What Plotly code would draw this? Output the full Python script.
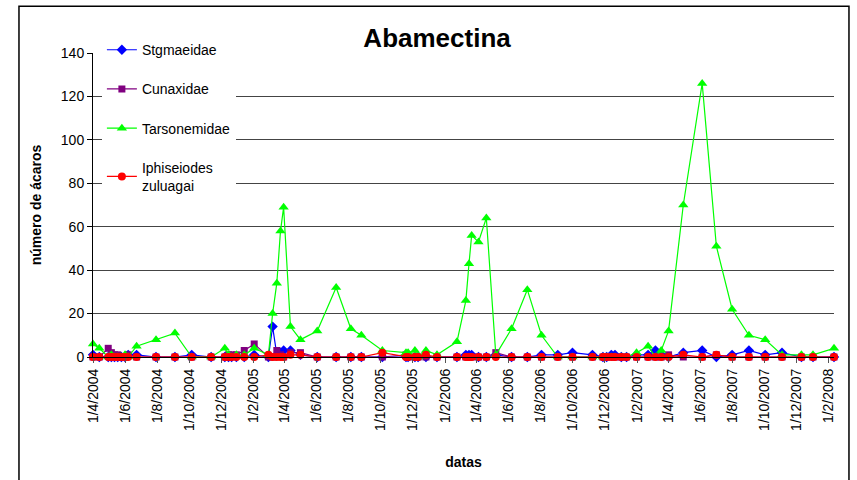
import plotly.graph_objects as go

dates = [
    "2004-04-01", "2004-04-13", "2004-04-30", "2004-05-06", "2004-05-12", "2004-05-18",
    "2004-05-25", "2004-06-01", "2004-06-07", "2004-06-23", "2004-07-30", "2004-09-04",
    "2004-10-06", "2004-11-12", "2004-12-08", "2004-12-15", "2004-12-21", "2004-12-30",
    "2005-01-14", "2005-02-02", "2005-03-01", "2005-03-09", "2005-03-17", "2005-03-24",
    "2005-03-30", "2005-04-12", "2005-05-01", "2005-06-02", "2005-07-08", "2005-08-05",
    "2005-08-25", "2005-10-04", "2005-11-18", "2005-11-22", "2005-12-05", "2005-12-11",
    "2005-12-26", "2006-01-16", "2006-02-23", "2006-03-12", "2006-03-18", "2006-03-23",
    "2006-04-05", "2006-04-20", "2006-05-08", "2006-06-07", "2006-07-07", "2006-08-03",
    "2006-09-03", "2006-10-01", "2006-11-08", "2006-11-28", "2006-12-05", "2006-12-14",
    "2006-12-21", "2007-01-02", "2007-01-12", "2007-01-31", "2007-02-22", "2007-03-08",
    "2007-03-19", "2007-04-02", "2007-04-30", "2007-06-05", "2007-07-02", "2007-08-01",
    "2007-09-02", "2007-10-03", "2007-11-04", "2007-12-11", "2008-01-02", "2008-02-11",
]

stgmaeidae = [
    1, 0, 0, 0, 0, 0, 0, 0, 1, 1, 0, 0,
    1, 0, 0, 0, 0, 0, 0, 1, 0, 14, 1, 2,
    3, 3, 1, 0, 0, 0, 0, 0, 0, 0, 0, 0,
    0, 0, 0, 1, 1, 1, 0, 0, 1, 0, 0, 1,
    1, 2, 1, 0, 0, 1, 1, 0, 0, 1, 1, 3,
    1, 0, 2, 3, 0, 1, 3, 1, 2, 0, 0, 0,
]

cunaxidae = [
    0, 0, 4, 2, 1, 1, 0, 0, 1, 0, 0, 0,
    0, 0, 0, 1, 1, 1, 3, 6, 0, 0, 3, 1,
    0, 2, 2, 0, 0, 0, 0, 0, 1, 0, 0, 0,
    0, 0, 0, 0, 0, 0, 0, 0, 2, 0, 0, 0,
    0, 0, 0, 0, 0, 0, 0, 0, 0, 0, 0, 0,
    0, 1, 0, 0, 1, 0, 0, 0, 0, 0, 0, 0,
]

tarsonemidae = [
    6, 4, 0, 1, 0, 0, 0, 1, 0, 5, 8, 11,
    0, 0, 4, 1, 0, 1, 1, 4, 1, 20, 34, 58,
    69, 14, 8, 12, 32, 13, 10, 3, 2, 2, 3, 0,
    3, 1, 7, 26, 43, 56, 53, 64, 1, 13, 31, 10,
    0, 0, 0, 0, 0, 0, 0, 0, 0, 2, 5, 0,
    3, 12, 70, 126, 51, 22, 10, 8, 1, 1, 1, 4,
]

iphiseiodes = [
    0, 0, 0, 0, 0, 0, 0, 0, 0, 0, 0, 0,
    0, 0, 0, 0, 0, 0, 0, 0, 1, 0, 0, 0,
    0, 1, 1, 0, 0, 0, 0, 2, 0, 0, 0, 0,
    1, 0, 0, 0, 0, 0, 0, 0, 0, 0, 0, 0,
    0, 0, 0, 0, 0, 0, 0, 0, 0, 0, 0, 0,
    0, 0, 1, 0, 1, 0, 0, 0, 0, 0, 0, 0,
]

tick_dates = [
    "2004-04-01", "2004-06-01", "2004-08-01", "2004-10-01", "2004-12-01",
    "2005-02-01", "2005-04-01", "2005-06-01", "2005-08-01", "2005-10-01", "2005-12-01",
    "2006-02-01", "2006-04-01", "2006-06-01", "2006-08-01", "2006-10-01", "2006-12-01",
    "2007-02-01", "2007-04-01", "2007-06-01", "2007-08-01", "2007-10-01", "2007-12-01",
    "2008-02-01",
]
tick_labels = [
    "1/4/2004", "1/6/2004", "1/8/2004", "1/10/2004", "1/12/2004",
    "1/2/2005", "1/4/2005", "1/6/2005", "1/8/2005", "1/10/2005", "1/12/2005",
    "1/2/2006", "1/4/2006", "1/6/2006", "1/8/2006", "1/10/2006", "1/12/2006",
    "1/2/2007", "1/4/2007", "1/6/2007", "1/8/2007", "1/10/2007", "1/12/2007",
    "1/2/2008",
]

FONT = "Liberation Sans, Arial, sans-serif"

series = [
    ("Stgmaeidae", stgmaeidae, "#0000FF", "diamond", 8),
    ("Cunaxidae", cunaxidae, "#800080", "square", 7),
    ("Tarsonemidae", tarsonemidae, "#00FF00", "triangle-up", 9),
    ("Iphiseiodes<br>zuluagai", iphiseiodes, "#FF0000", "circle", 8),
]

fig = go.Figure()
for i, (name, vals, col, sym, size) in enumerate(series):
    fig.add_trace(go.Scatter(
        x=dates, y=vals, name=name, mode="lines+markers",
        line=dict(color=col, width=1.2),
        marker=dict(color=col, symbol=sym, size=size, line=dict(width=0)),
        cliponaxis=False, legendgroup=f"g{i}",
    ))

fig.update_layout(
    width=857, height=480,
    margin=dict(l=93, r=23, t=53, b=121),
    paper_bgcolor="white", plot_bgcolor="white",
    font=dict(family=FONT, size=14, color="black"),
    title=dict(text="<b>Abamectina</b>", x=0.51, xanchor="center", y=0.921, yanchor="middle",
               font=dict(family=FONT, size=26, color="black")),
    showlegend=True,
    legend=dict(x=0.012, y=1.062, xanchor="left", yanchor="top",
                bgcolor="white", borderwidth=0, tracegroupgap=18,
                font=dict(family=FONT, size=14, color="black")),
    xaxis=dict(
        type="date", range=["2004-04-01", "2008-02-11"],
        tickmode="array", tickvals=tick_dates, ticktext=tick_labels,
        tickangle=-90, tickfont=dict(family=FONT, size=14),
        ticks="outside", ticklen=5, tickcolor="#555",
        showline=True, linecolor="black", linewidth=1,
        showgrid=False, zeroline=False,
        title=dict(text="<b>datas</b>", font=dict(family=FONT, size=14), standoff=27),
    ),
    yaxis=dict(
        range=[0, 140], tickmode="linear", tick0=0, dtick=20,
        ticks="outside", ticklen=5, tickcolor="black",
        showline=True, linecolor="black", linewidth=1,
        showgrid=True, gridcolor="#444", gridwidth=1, zeroline=False,
        tickfont=dict(family=FONT, size=14),
        title=dict(text="<b>número de ácaros</b>", font=dict(family=FONT, size=14), standoff=15),
    ),
    shapes=[dict(type="rect", xref="paper", yref="paper",
                 x0=-0.0999, x1=1.0202, y0=-0.45, y1=1.1535,
                 line=dict(color="black", width=1.5), fillcolor="rgba(0,0,0,0)", layer="below")],
)

fig.write_html("out.html", config={"displayModeBar": False},
               post_script="document.body.style.margin='0';document.body.style.overflow='hidden';")
